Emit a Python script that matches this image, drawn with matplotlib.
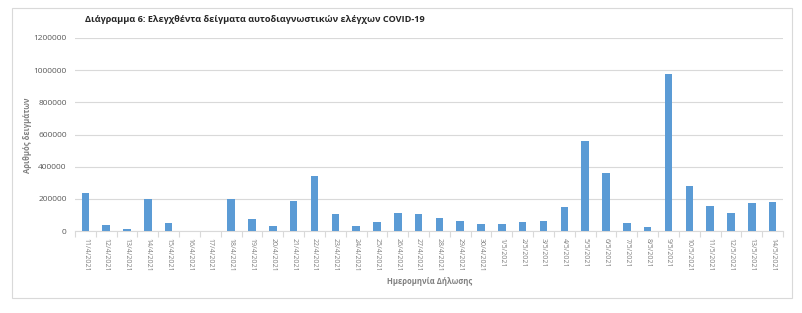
import numpy as np
import matplotlib.pyplot as plt
from matplotlib.patches import Rectangle

plt.rcParams["font.family"] = ["Open Sans", "DejaVu Sans"]

dates = [
    "11/4/2021", "12/4/2021", "13/4/2021", "14/4/2021", "15/4/2021", "16/4/2021",
    "17/4/2021", "18/4/2021", "19/4/2021", "20/4/2021", "21/4/2021", "22/4/2021",
    "23/4/2021", "24/4/2021", "25/4/2021", "26/4/2021", "27/4/2021", "28/4/2021",
    "29/4/2021", "30/4/2021", "1/5/2021", "2/5/2021", "3/5/2021", "4/5/2021",
    "5/5/2021", "6/5/2021", "7/5/2021", "8/5/2021", "9/5/2021", "10/5/2021",
    "11/5/2021", "12/5/2021", "13/5/2021", "14/5/2021",
]
samples = [
    235000, 37000, 11000, 197000, 50000, 0,
    0, 199000, 74000, 33000, 185000, 345000,
    108000, 33000, 54000, 112000, 104000, 79000,
    64000, 46000, 42000, 54000, 64000, 150000,
    559000, 359000, 50000, 25000, 978000, 282000,
    156000, 112000, 174000, 179000,
]
yticks = [0, 200000, 400000, 600000, 800000, 1000000, 1200000]

grey = "#7f7f7f"
fig = plt.figure(figsize=(8.02, 3.13), dpi=100)

# chart border
fig.patches.append(Rectangle((12 / 802, 1 - 298 / 313), 780 / 802, 290 / 313,
                             transform=fig.transFigure, fill=False,
                             edgecolor="#d9d9d9", linewidth=0.8))

ax = fig.add_axes([75 / 802, 1 - 231 / 313, 708 / 802, 193 / 313])
x = np.arange(len(dates))
ax.bar(x, samples, width=0.36, color="#5b9bd5", zorder=3)

ax.set_xlim(-0.5, len(dates) - 0.5)
ax.set_ylim(0, 1200000)
ax.set_yticks(yticks)
ax.set_yticklabels([str(v) for v in yticks])
ax.yaxis.grid(True, color="#d9d9d9", linewidth=0.8, zorder=0)
ax.tick_params(axis="y", length=0, labelsize=6, labelcolor="#595959", pad=6)

ax.set_xticks(x)
ax.set_xticklabels(dates, rotation=270, fontsize=5, color=grey)
ax.tick_params(axis="x", length=0, pad=5)
ax.set_xticks(np.arange(len(dates) + 1) - 0.5, minor=True)
ax.tick_params(axis="x", which="minor", length=4, color="#d9d9d9", width=0.8)

for s in ["top", "right", "left"]:
    ax.spines[s].set_visible(False)
ax.spines["bottom"].set_color("#d9d9d9")
ax.spines["bottom"].set_linewidth(0.8)

fig.text(255 / 802, 1 - 20 / 313,
         "Διάγραμμα 6: Ελεγχθέντα δείγματα αυτοδιαγνωστικών ελέγχων COVID-19",
         ha="center", va="center", fontsize=6.6, fontweight="bold", color="#262626")
fig.text(28 / 802, 1 - 135 / 313, "Αριθμός δειγμάτων", rotation=90,
         ha="center", va="center", fontsize=5.5, fontweight="bold", color=grey)
fig.text(430 / 802, 1 - 282 / 313, "Ημερομηνία Δήλωσης",
         ha="center", va="center", fontsize=5.5, fontweight="bold", color=grey)

fig.savefig("out.png", dpi=100)
